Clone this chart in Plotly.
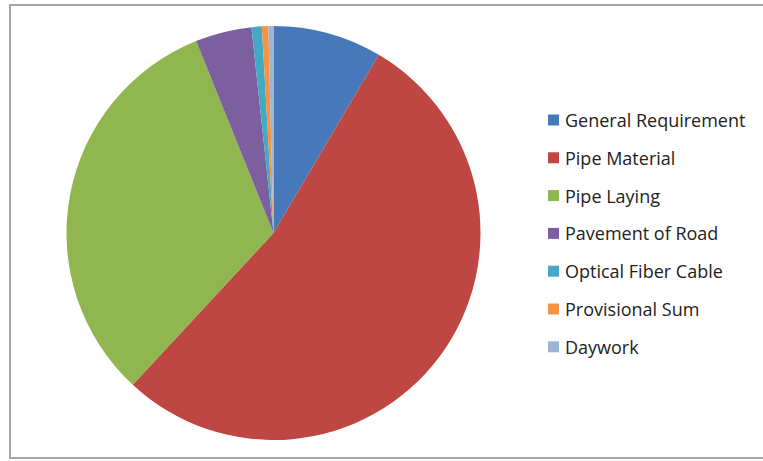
import plotly.graph_objects as go

# Cost breakdown by work item (percent of total)
labels = ["General Requirement", "Pipe Material", "Pipe Laying", "Pavement of Road",
          "Optical Fiber Cable", "Provisional Sum", "Daywork"]
values = [8.5, 53.4, 32.0, 4.4, 0.8, 0.5, 0.4]
colors = ["#4678BA", "#BE4643", "#90B650", "#7B5F9F", "#45A9C4", "#F59344", "#9EB3D6"]

W, H = 763, 461

fig = go.Figure(go.Pie(
    labels=labels,
    values=values,
    marker=dict(colors=colors, line=dict(width=0)),
    sort=False,
    direction="clockwise",
    rotation=0,
    textinfo="none",
    hoverinfo="label+percent",
    showlegend=False,
    domain=dict(x=[66.5 / W, 480.5 / W], y=[1 - 440 / H, 1 - 26 / H]),
))

# Legend drawn as swatches and labels with wide row spacing
shapes = [dict(type="rect", xref="paper", yref="paper",
               x0=10 / W, x1=1.01, y0=1 - 458 / H, y1=1 - 5 / H,
               line=dict(color="#A6A6A6", width=2), fillcolor="rgba(0,0,0,0)")]
annotations = []
row0, step = 120, 37.8
for i, (lab, col) in enumerate(zip(labels, colors)):
    yc = row0 + i * step
    shapes.append(dict(type="rect", xref="paper", yref="paper",
                       x0=548 / W, x1=559 / W,
                       y0=1 - (yc + 5.5) / H, y1=1 - (yc - 5.5) / H,
                       line=dict(color=col, width=0), fillcolor=col))
    annotations.append(dict(text=lab, xref="paper", yref="paper",
                            x=563 / W, y=1 - yc / H, xanchor="left", yanchor="middle",
                            showarrow=False,
                            font=dict(family="Open Sans", size=18, color="#222222")))

fig.update_layout(
    width=W, height=H,
    margin=dict(l=0, r=0, t=0, b=0),
    paper_bgcolor="white",
    plot_bgcolor="white",
    shapes=shapes,
    annotations=annotations,
)

fig.write_html("out.html")
